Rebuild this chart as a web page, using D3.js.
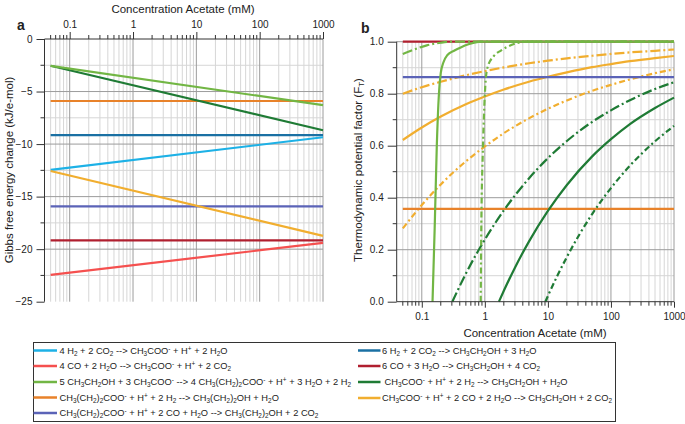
<!DOCTYPE html>
<html><head><meta charset="utf-8">
<script src="https://cdn.jsdelivr.net/npm/d3@7"></script>
<style>body{margin:0;background:#fff} text{font-family:"Liberation Sans",Arial,sans-serif;fill:#222}</style>
</head><body><svg id="c" width="685" height="424"></svg>
<script>
// ---------- DATA ----------
const decadeTicks = [0.1, 1, 10, 100, 1000];
const decadeLabels = ["0.1", "1", "10", "100", "1000"];
const gibbsTicks = [0, -5, -10, -15, -20, -25];
const ftTicks = [0, 0.2, 0.4, 0.6, 0.8, 1.0];

// Panel a: Gibbs free energy (kJ/e-mol) at the ends of the acetate range
const concA = [0.05, 1000];
const gH2Acetate = [-12.45, -9.35];
const gCOAcetate = [-22.45, -19.4];
const gEthanolButyrate = [-2.55, -6.3];
const gButyrateButanolH2 = [-5.9, -5.9];
const gButyrateButanolCO = [-15.93, -15.93];
const gH2Ethanol = [-9.15, -9.15];
const gCOEthanol = [-19.17, -19.17];
const gAcetateEthanolH2 = [-2.55, -8.68];
const gAcetateEthanolCO = [-12.56, -18.73];

// Panel b: thermodynamic potential factor
const concFlat = [0.05, 1000];
const ftCOEthanol = [1.0, 1.0];
const ftButyrateButanolCO = [0.864, 0.864];
const ftButyrateButanolH2 = [0.357, 0.357];

const concY = [0.05, 0.1, 0.2, 0.5, 1, 2, 5, 10, 20, 50, 100, 200, 500, 1000];
const ftYellowSolid = [0.622, 0.670, 0.712, 0.759, 0.789, 0.816, 0.846, 0.865, 0.882, 0.902, 0.914, 0.925, 0.937, 0.945];
const ftYellowDashA = [0.800, 0.825, 0.846, 0.871, 0.887, 0.901, 0.917, 0.927, 0.936, 0.946, 0.953, 0.959, 0.965, 0.970];
const ftYellowDashB = [0.282, 0.372, 0.451, 0.540, 0.597, 0.648, 0.705, 0.742, 0.774, 0.811, 0.834, 0.855, 0.879, 0.894];

const concDG1 = [0.305, 0.5, 1, 2, 5, 10, 20, 50, 100, 200, 500, 1000];
const ftDG1 = [0, 0.108, 0.239, 0.351, 0.474, 0.552, 0.618, 0.691, 0.736, 0.775, 0.818, 0.844];
const concDG2 = [1.67, 2, 3, 5, 10, 20, 50, 100, 200, 500, 1000];
const ftDG2 = [0, 0.042, 0.131, 0.231, 0.349, 0.449, 0.558, 0.625, 0.683, 0.745, 0.785];
const concDG3 = [9.12, 10, 20, 50, 100, 200, 500, 1000];
const ftDG3 = [0, 0.022, 0.172, 0.336, 0.437, 0.523, 0.617, 0.676];

const concLG1 = [0.148, 0.16, 0.173, 0.187, 0.2, 0.22, 0.255, 0.33, 0.414, 0.55, 0.86, 1000];
const ftLG1 = [0, 0.28, 0.6, 0.8, 0.88, 0.92, 0.949, 0.966, 0.978, 0.99, 1.0, 1.0];
const concLG2 = [0.05, 0.08, 0.12, 0.2, 0.3, 1000];
const ftLG2 = [0.953, 0.972, 0.986, 0.996, 1.0, 1.0];
const concLG3 = [0.86, 0.88, 0.93, 0.98, 1.03, 1.1, 1.39, 1.8, 2.26, 3.3, 4.5, 1000];
const ftLG3 = [0, 0.3, 0.58, 0.75, 0.85, 0.9, 0.945, 0.966, 0.98, 0.995, 1.0, 1.0];

const legendLeft = [
  "4 H_2 + 2 CO_2 --> CH_3COO^- + H^+ + 2 H_2O",
  "4 CO + 2 H_2O --> CH_3COO^- + H^+ + 2 CO_2",
  "5 CH_3CH_2OH + 3 CH_3COO^- --> 4 CH_3(CH_2)_2COO^- + H^+ + 3 H_2O + 2 H_2",
  "CH_3(CH_2)_2COO^- + H^+ + 2 H_2 --> CH_3(CH_2)_2OH + H_2O",
  "CH_3(CH_2)_2COO^- + H^+ + 2 CO + H_2O --> CH_3(CH_2)_2OH + 2 CO_2"
];
const legendRight = [
  "6 H_2 + 2 CO_2 --> CH_3CH_2OH + 3 H_2O",
  "6 CO + 3 H_2O --> CH_3CH_2OH + 4 CO_2",
  " CH_3COO^- + H^+ + 2 H_2 --> CH_3CH_2OH + H_2O",
  "CH_3COO^- + H^+ + 2 CO + 2 H_2O --> CH_3CH_2OH + 2 CO_2"
];

// colours
const C = {
  lblue: "#1db1e6", red: "#f5504f", lgreen: "#72b644", orange: "#e8822a", purple: "#5b63b7",
  teal: "#1a70a3", dred: "#b01f2f", dgreen: "#1f7b35", yellow: "#f1ae2f"
};
const legendLeftColors = [C.lblue, C.red, C.lgreen, C.orange, C.purple];
const legendRightColors = [C.teal, C.dred, C.dgreen, C.yellow];

// ---------- DRAW ----------
const svg = d3.select("#c");
const minorVals = [];
for (const d of [0.01, 0.1, 1, 10, 100]) for (let k = 1; k <= 9; k++) {
  const v = +(d * k).toPrecision(3);
  if (v > 0.041 && v < 1000 && !decadeTicks.includes(v)) minorVals.push(v);
}

function grid(g, x, y, yMinor, yMajor, x0, x1, y0, y1) {
  g.selectAll(".vm").data(minorVals).join("line").attr("x1", d => x(d)).attr("x2", d => x(d))
    .attr("y1", y0).attr("y2", y1).attr("stroke", "#d6d6d6").attr("stroke-width", 1);
  g.selectAll(".hm").data(yMinor).join("line").attr("y1", d => y(d)).attr("y2", d => y(d))
    .attr("x1", x0).attr("x2", x1).attr("stroke", "#d6d6d6").attr("stroke-width", 1);
  g.selectAll(".vM").data(decadeTicks).join("line").attr("x1", d => x(d)).attr("x2", d => x(d))
    .attr("y1", y0).attr("y2", y1).attr("stroke", "#9c9c9c").attr("stroke-width", 1);
  g.selectAll(".hM").data(yMajor).join("line").attr("y1", d => y(d)).attr("y2", d => y(d))
    .attr("x1", x0).attr("x2", x1).attr("stroke", "#9c9c9c").attr("stroke-width", 1);
}

// Panel a
const xa = d3.scaleLog().domain([0.04, 1000]).range([44.5, 323]);
const ya = d3.scaleLinear().domain([-25, 0]).range([301.7, 39]);
const ga = svg.append("g");
grid(ga.append("g"), xa, ya, [-2.5, -7.5, -12.5, -17.5, -22.5], [-5, -10, -15, -20], 44.5, 323, 39, 301.7);

const lineA = d3.line().x(d => xa(d[0])).y(d => ya(d[1]));
const seriesA = [
  [gH2Ethanol, C.teal], [gButyrateButanolH2, C.orange], [gCOEthanol, C.dred], [gButyrateButanolCO, C.purple],
  [gH2Acetate, C.lblue], [gCOAcetate, C.red], [gAcetateEthanolCO, C.yellow],
  [gAcetateEthanolH2, C.dgreen], [gEthanolButyrate, C.lgreen]
];
seriesA.forEach(([vals, col]) => {
  ga.append("path").attr("d", lineA(concA.map((c, i) => [c, vals[i]])))
    .attr("fill", "none").attr("stroke", col).attr("stroke-width", 2.2);
});
// top axis
const topAx = ga.append("g").attr("transform", "translate(0,39)");
topAx.call(d3.axisTop(xa).tickValues(decadeTicks).tickFormat((d, i) => decadeLabels[i]).tickSize(7).tickPadding(4));
topAx.selectAll(".mt").data(minorVals).join("line").attr("x1", d => xa(d)).attr("x2", d => xa(d))
  .attr("y1", 0).attr("y2", -4).attr("stroke", "#333");
topAx.select(".domain").attr("stroke", "#333").attr("d", "M44.5,0H323");
topAx.selectAll(".tick line").attr("stroke", "#333");
topAx.selectAll("text").attr("font-size", 10).attr("fill", "#222").attr("font-family", "Liberation Sans, Arial, sans-serif");
// left axis
const leftA = ga.append("g").attr("transform", "translate(44.5,0)");
leftA.call(d3.axisLeft(ya).tickValues(gibbsTicks).tickSize(8).tickPadding(4));
leftA.selectAll(".mt").data([-2.5, -7.5, -12.5, -17.5, -22.5]).join("line").attr("y1", d => ya(d)).attr("y2", d => ya(d))
  .attr("x1", 0).attr("x2", -4).attr("stroke", "#333");
leftA.select(".domain").attr("stroke", "#333").attr("d", "M0,39V301.7");
leftA.selectAll(".tick line").attr("stroke", "#333");
leftA.selectAll("text").attr("font-size", 10).attr("fill", "#222").attr("font-family", "Liberation Sans, Arial, sans-serif");

svg.append("text").attr("x", 183).attr("y", 13).attr("text-anchor", "middle").attr("font-size", 11.5).text("Concentration Acetate (mM)");
svg.append("text").attr("transform", "translate(13,170) rotate(-90)").attr("text-anchor", "middle").attr("font-size", 11.5).text("Gibbs free energy change (kJ/e-mol)");
svg.append("text").attr("x", 17).attr("y", 30).attr("font-size", 14).attr("font-weight", "bold").text("a");

// Panel b
const xb = d3.scaleLog().domain([0.04, 1000]).range([396.7, 674]);
const yb = d3.scaleLinear().domain([0, 1]).range([301.7, 41.7]);
const gb = svg.append("g");
grid(gb.append("g"), xb, yb, [0.1, 0.3, 0.5, 0.7, 0.9], [0.2, 0.4, 0.6, 0.8, 1.0], 396.7, 674, 41.7, 301.7);

const lineB = d3.line().x(d => xb(d[0])).y(d => yb(d[1])).curve(d3.curveMonotoneX);
const seriesB = [
  [concFlat, ftCOEthanol, C.dred, null],
  [concY, ftYellowSolid, C.yellow, null],
  [concY, ftYellowDashA, C.yellow, "10,3,2,3"],
  [concY, ftYellowDashB, C.yellow, "6,3,2,3"],
  [concFlat, ftButyrateButanolCO, C.purple, null],
  [concFlat, ftButyrateButanolH2, C.orange, null],
  [concDG1, ftDG1, C.dgreen, "10,3,2,3"],
  [concDG2, ftDG2, C.dgreen, null],
  [concDG3, ftDG3, C.dgreen, "6,3,2,3"],
  [concLG2, ftLG2, C.lgreen, "10,3,2,3"],
  [concLG3, ftLG3, C.lgreen, "6,3,2,3"],
  [concLG1, ftLG1, C.lgreen, null]
];
seriesB.forEach(([cs, vals, col, dash]) => {
  const p = gb.append("path").attr("d", lineB(cs.map((c, i) => [c, vals[i]])))
    .attr("fill", "none").attr("stroke", col).attr("stroke-width", 2.2);
  if (dash) p.attr("stroke-dasharray", dash);
});
const botB = gb.append("g").attr("transform", "translate(0,301.7)");
botB.call(d3.axisBottom(xb).tickValues(decadeTicks).tickFormat((d, i) => decadeLabels[i]).tickSize(6).tickPadding(5));
botB.selectAll(".mt").data(minorVals).join("line").attr("x1", d => xb(d)).attr("x2", d => xb(d))
  .attr("y1", 0).attr("y2", 4).attr("stroke", "#333");
botB.select(".domain").attr("stroke", "#333").attr("d", "M396.7,0H674");
botB.selectAll(".tick line").attr("stroke", "#333");
botB.selectAll("text").attr("font-size", 10).attr("fill", "#222").attr("font-family", "Liberation Sans, Arial, sans-serif");
const leftB = gb.append("g").attr("transform", "translate(396.7,0)");
leftB.call(d3.axisLeft(yb).tickValues(ftTicks).tickFormat(d3.format(".1f")).tickSize(9).tickPadding(4));
leftB.selectAll(".mt").data([0.1, 0.3, 0.5, 0.7, 0.9]).join("line").attr("y1", d => yb(d)).attr("y2", d => yb(d))
  .attr("x1", 0).attr("x2", -4).attr("stroke", "#333");
leftB.select(".domain").attr("stroke", "#333").attr("d", "M0,41.7V301.7");
leftB.selectAll(".tick line").attr("stroke", "#333");
leftB.selectAll("text").attr("font-size", 10).attr("fill", "#222").attr("font-family", "Liberation Sans, Arial, sans-serif");

svg.append("text").attr("x", 535).attr("y", 337).attr("text-anchor", "middle").attr("font-size", 11.5).text("Concentration Acetate (mM)");
const yt = svg.append("text").attr("transform", "translate(362,170) rotate(-90)").attr("text-anchor", "middle").attr("font-size", 11.5);
yt.append("tspan").text("Thermodynamic potential factor (F");
yt.append("tspan").attr("font-size", 8).attr("dy", 2).text("T");
yt.append("tspan").attr("dy", -2).text(")");
svg.append("text").attr("x", 361).attr("y", 33).attr("font-size", 14).attr("font-weight", "bold").text("b");

// Legend
svg.append("rect").attr("x", 33.5).attr("y", 342.5).attr("width", 582).attr("height", 79)
  .attr("fill", "none").attr("stroke", "#333").attr("stroke-width", 1);

function rich(t, str) {
  let buf = "", shift = 0;
  const flush = () => { if (buf) { t.append("tspan").attr("dy", -shift).text(buf); shift = 0; buf = ""; } };
  for (let i = 0; i < str.length; i++) {
    const ch = str[i];
    if ((ch === "_" || ch === "^") && i + 1 < str.length) {
      flush();
      const s = ch === "_" ? 2 : -3;
      t.append("tspan").attr("dy", s - shift).attr("font-size", 6.4).text(str[i + 1]);
      shift = s; i++;
    } else buf += ch;
  }
  flush();
}
const leftRows = [350.5, 366, 382, 397.5, 413];
const rightRows = [350.5, 366, 382, 398];
legendLeft.forEach((s, i) => {
  svg.append("line").attr("x1", 33.5).attr("x2", 57).attr("y1", leftRows[i]).attr("y2", leftRows[i])
    .attr("stroke", legendLeftColors[i]).attr("stroke-width", 2.5);
  rich(svg.append("text").attr("x", 59.5).attr("y", leftRows[i] + 3.3).attr("font-size", 9.3).attr("xml:space", "preserve"), s);
});
legendRight.forEach((s, i) => {
  svg.append("line").attr("x1", 358).attr("x2", 380.5).attr("y1", rightRows[i]).attr("y2", rightRows[i])
    .attr("stroke", legendRightColors[i]).attr("stroke-width", 2.5);
  rich(svg.append("text").attr("x", 382).attr("y", rightRows[i] + 3.3).attr("font-size", 9.3).attr("xml:space", "preserve"), s);
});
</script></body></html>
